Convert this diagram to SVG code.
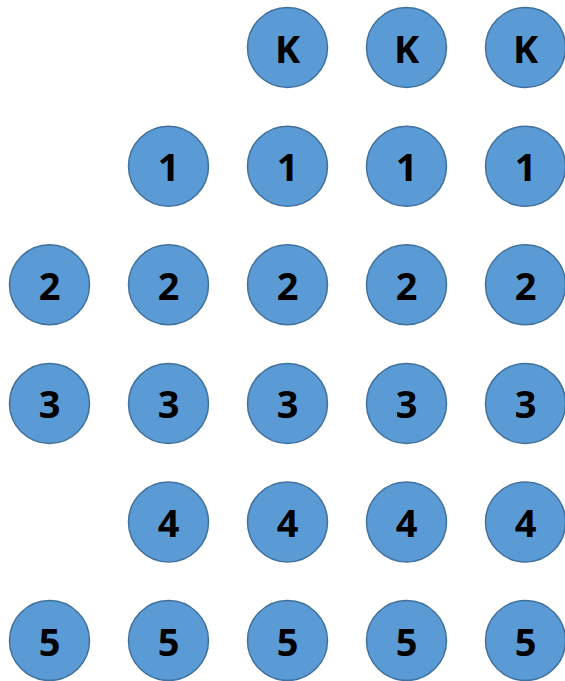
<svg xmlns="http://www.w3.org/2000/svg" width="565" height="681" viewBox="0 0 565 681">
<style>
.n circle{fill:#5B9BD5;stroke:#41719C;stroke-width:1.5}
.n text{font-family:"Open Sans","Noto Sans",sans-serif;font-weight:bold;font-size:38px;fill:#000;text-anchor:middle;dominant-baseline:central}
</style>
<rect width="565" height="681" fill="#fff"/>
<g id="connectors"/>
<g class="n" id="k2"><circle cx="287.5" cy="47.5" r="40"/><text x="287.5" y="47.5">K</text></g>
<g class="n" id="k3"><circle cx="406.5" cy="47.5" r="40"/><text x="406.5" y="47.5">K</text></g>
<g class="n" id="k4"><circle cx="525.5" cy="47.5" r="40"/><text x="525.5" y="47.5">K</text></g>
<g class="n" id="a1"><circle cx="168.5" cy="166.2" r="40"/><text x="168.5" y="166.2">1</text></g>
<g class="n" id="a2"><circle cx="287.5" cy="166.2" r="40"/><text x="287.5" y="166.2">1</text></g>
<g class="n" id="a3"><circle cx="406.5" cy="166.2" r="40"/><text x="406.5" y="166.2">1</text></g>
<g class="n" id="a4"><circle cx="525.5" cy="166.2" r="40"/><text x="525.5" y="166.2">1</text></g>
<g class="n" id="b0"><circle cx="49.5" cy="284.8" r="40"/><text x="49.5" y="284.8">2</text></g>
<g class="n" id="b1"><circle cx="168.5" cy="284.8" r="40"/><text x="168.5" y="284.8">2</text></g>
<g class="n" id="b2"><circle cx="287.5" cy="284.8" r="40"/><text x="287.5" y="284.8">2</text></g>
<g class="n" id="b3"><circle cx="406.5" cy="284.8" r="40"/><text x="406.5" y="284.8">2</text></g>
<g class="n" id="b4"><circle cx="525.5" cy="284.8" r="40"/><text x="525.5" y="284.8">2</text></g>
<g class="n" id="c0"><circle cx="49.5" cy="403.4" r="40"/><text x="49.5" y="403.4">3</text></g>
<g class="n" id="c1"><circle cx="168.5" cy="403.4" r="40"/><text x="168.5" y="403.4">3</text></g>
<g class="n" id="c2"><circle cx="287.5" cy="403.4" r="40"/><text x="287.5" y="403.4">3</text></g>
<g class="n" id="c3"><circle cx="406.5" cy="403.4" r="40"/><text x="406.5" y="403.4">3</text></g>
<g class="n" id="c4"><circle cx="525.5" cy="403.4" r="40"/><text x="525.5" y="403.4">3</text></g>
<g class="n" id="d1"><circle cx="168.5" cy="522" r="40"/><text x="168.5" y="522">4</text></g>
<g class="n" id="d2"><circle cx="287.5" cy="522" r="40"/><text x="287.5" y="522">4</text></g>
<g class="n" id="d3"><circle cx="406.5" cy="522" r="40"/><text x="406.5" y="522">4</text></g>
<g class="n" id="d4"><circle cx="525.5" cy="522" r="40"/><text x="525.5" y="522">4</text></g>
<g class="n" id="e0"><circle cx="49.5" cy="640.5" r="40"/><text x="49.5" y="640.5">5</text></g>
<g class="n" id="e1"><circle cx="168.5" cy="640.5" r="40"/><text x="168.5" y="640.5">5</text></g>
<g class="n" id="e2"><circle cx="287.5" cy="640.5" r="40"/><text x="287.5" y="640.5">5</text></g>
<g class="n" id="e3"><circle cx="406.5" cy="640.5" r="40"/><text x="406.5" y="640.5">5</text></g>
<g class="n" id="e4"><circle cx="525.5" cy="640.5" r="40"/><text x="525.5" y="640.5">5</text></g>
</svg>
